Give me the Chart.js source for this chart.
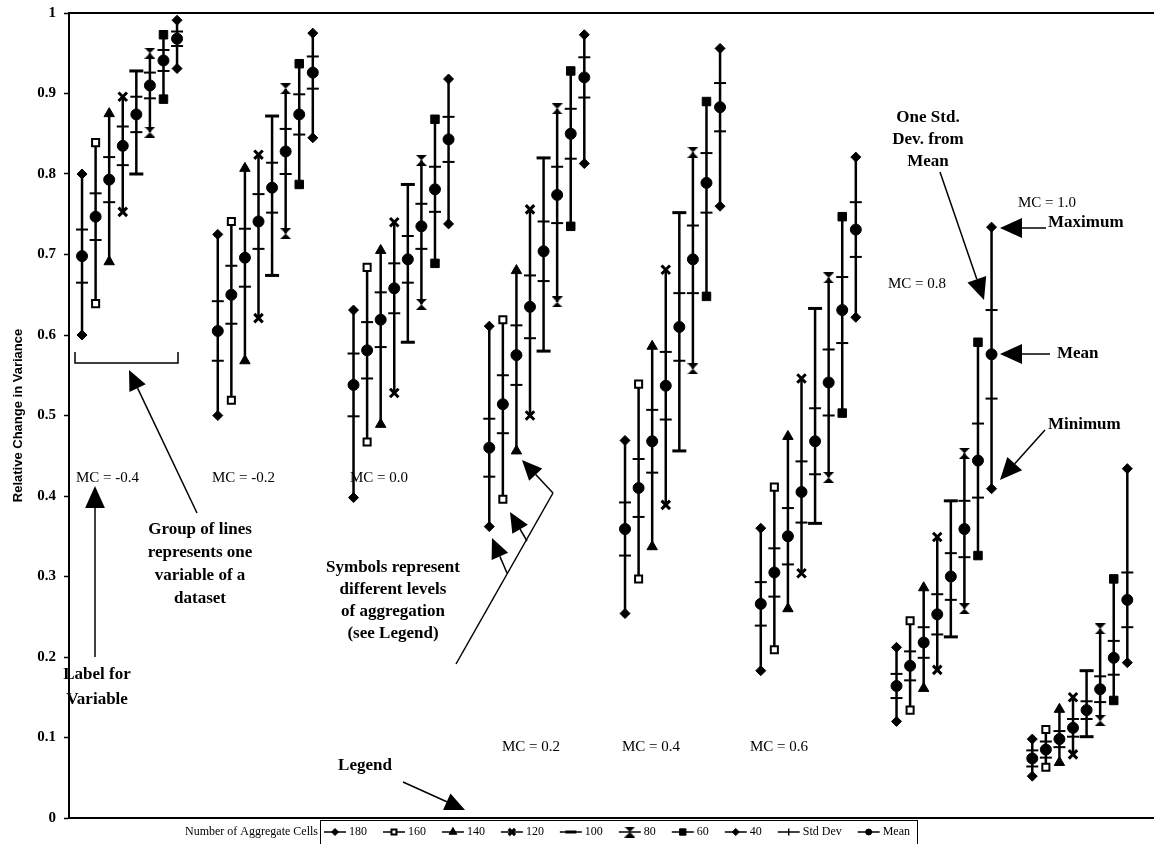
<!DOCTYPE html>
<html>
<head>
<meta charset="utf-8">
<script src="https://cdn.jsdelivr.net/npm/chart.js@4.4.0/dist/chart.umd.min.js"></script>
<style>
  html, body { margin: 0; padding: 0; background: #fff; }
  #wrap { width: 1154px; height: 844px; }
</style>
</head>
<body>
<div id="wrap"><canvas id="myChart" width="1154" height="844"></canvas></div>
<script>
// 資料：每組 (MC 值) 8 條線，對應 8 種聚合層級
const groupLabels = ['MC = -0.4', 'MC = -0.2', 'MC = 0.0', 'MC = 0.2', 'MC = 0.4', 'MC = 0.6', 'MC = 0.8', 'MC = 1.0'];
const aggLevels = ['180', '160', '140', '120', '100', '80', '60', '40'];
const yTicks = [0, 0.1, 0.2, 0.3, 0.4, 0.5, 0.6, 0.7, 0.8, 0.9, 1];

// 最大值 (每列一組)
const maxValues = [
  [0.800, 0.839, 0.875, 0.896, 0.928, 0.950, 0.973, 0.991],
  [0.725, 0.741, 0.807, 0.824, 0.872, 0.906, 0.937, 0.975],
  [0.631, 0.684, 0.705, 0.740, 0.787, 0.817, 0.868, 0.918],
  [0.611, 0.619, 0.680, 0.756, 0.820, 0.881, 0.928, 0.973],
  [0.469, 0.539, 0.586, 0.681, 0.752, 0.827, 0.890, 0.956],
  [0.360, 0.411, 0.474, 0.546, 0.633, 0.671, 0.747, 0.821],
  [0.212, 0.245, 0.286, 0.349, 0.394, 0.453, 0.591, 0.734],
  [0.098, 0.110, 0.135, 0.150, 0.183, 0.235, 0.297, 0.434]
];
// 最小值
const minValues = [
  [0.600, 0.639, 0.691, 0.753, 0.800, 0.852, 0.893, 0.931],
  [0.500, 0.519, 0.568, 0.621, 0.674, 0.726, 0.787, 0.845],
  [0.398, 0.467, 0.489, 0.528, 0.591, 0.638, 0.689, 0.738],
  [0.362, 0.396, 0.456, 0.500, 0.580, 0.641, 0.735, 0.813],
  [0.254, 0.297, 0.337, 0.389, 0.456, 0.558, 0.648, 0.760],
  [0.183, 0.209, 0.260, 0.304, 0.366, 0.423, 0.503, 0.622],
  [0.120, 0.134, 0.161, 0.184, 0.225, 0.260, 0.326, 0.409],
  [0.052, 0.063, 0.069, 0.079, 0.101, 0.121, 0.146, 0.193]
];
// 平均值
const meanValues = [
  [0.698, 0.747, 0.793, 0.835, 0.874, 0.910, 0.941, 0.968],
  [0.605, 0.650, 0.696, 0.741, 0.783, 0.828, 0.874, 0.926],
  [0.538, 0.581, 0.619, 0.658, 0.694, 0.735, 0.781, 0.843],
  [0.460, 0.514, 0.575, 0.635, 0.704, 0.774, 0.850, 0.920],
  [0.359, 0.410, 0.468, 0.537, 0.610, 0.694, 0.789, 0.883],
  [0.266, 0.305, 0.350, 0.405, 0.468, 0.541, 0.631, 0.731],
  [0.164, 0.189, 0.218, 0.253, 0.300, 0.359, 0.444, 0.576],
  [0.074, 0.085, 0.098, 0.112, 0.134, 0.160, 0.199, 0.271]
];
// 標準差
const stdDevValues = [
  [0.033, 0.029, 0.028, 0.024, 0.022, 0.016, 0.013, 0.009],
  [0.037, 0.036, 0.036, 0.034, 0.031, 0.028, 0.025, 0.020],
  [0.039, 0.035, 0.034, 0.031, 0.029, 0.028, 0.028, 0.028],
  [0.036, 0.036, 0.037, 0.039, 0.037, 0.035, 0.031, 0.025],
  [0.033, 0.036, 0.039, 0.042, 0.042, 0.042, 0.037, 0.030],
  [0.027, 0.030, 0.035, 0.038, 0.041, 0.041, 0.041, 0.034],
  [0.015, 0.018, 0.019, 0.025, 0.029, 0.035, 0.046, 0.055],
  [0.010, 0.010, 0.010, 0.011, 0.011, 0.016, 0.021, 0.034]
];

const SERIF = '"Liberation Serif", "Times New Roman", serif';

// 沙漏形符號 (80)
function makeHourglass(size) {
  const c = document.createElement('canvas');
  c.width = size; c.height = size;
  const g = c.getContext('2d');
  g.fillStyle = '#000';
  g.beginPath();
  g.moveTo(0, 0); g.lineTo(size, 0); g.lineTo(size / 2, size / 2);
  g.closePath(); g.fill();
  g.beginPath();
  g.moveTo(0, size); g.lineTo(size, size); g.lineTo(size / 2, size / 2);
  g.closePath(); g.fill();
  return c;
}
const hourglass = makeHourglass(11);

// 各層級的端點符號
const markers = [
  { style: 'rectRot', radius: 5, fill: '#000', bw: 1 },
  { style: 'rect', radius: 5, fill: '#fff', bw: 2 },
  { style: 'triangle', radius: 6, fill: '#000', bw: 1 },
  { style: 'crossRot', radius: 6, fill: '#000', bw: 3 },
  { style: 'line', radius: 7, fill: '#000', bw: 3 },
  { style: hourglass, radius: 6, fill: '#000', bw: 1 },
  { style: 'rect', radius: 6, fill: '#000', bw: 1 },
  { style: 'rectRot', radius: 5, fill: '#000', bw: 1 }
];

// 垂直線 (最小值 ~ 最大值)
const rangeDatasets = aggLevels.map((level, i) => {
  const pts = [];
  groupLabels.forEach((label, g) => {
    const x = g * 10 + i;
    pts.push({ x: x, y: maxValues[g][i] });
    pts.push({ x: x, y: minValues[g][i] });
    pts.push({ x: x, y: null });
  });
  const m = markers[i];
  return {
    label: level,
    data: pts,
    showLine: true,
    spanGaps: false,
    borderColor: '#000',
    borderWidth: 2.5,
    pointStyle: m.style,
    pointRadius: m.radius,
    pointBackgroundColor: m.fill,
    pointBorderColor: '#000',
    pointBorderWidth: m.bw,
    order: 2
  };
});

const meanPts = [];
const sdPts = [];
groupLabels.forEach((label, g) => {
  aggLevels.forEach((level, i) => {
    const x = g * 10 + i;
    meanPts.push({ x: x, y: meanValues[g][i] });
    sdPts.push({ x: x, y: meanValues[g][i] + stdDevValues[g][i] });
    sdPts.push({ x: x, y: meanValues[g][i] - stdDevValues[g][i] });
  });
});

const sdDataset = {
  label: 'Std Dev', data: sdPts, showLine: false,
  pointStyle: 'line', pointRadius: 6, pointBorderWidth: 2,
  pointBorderColor: '#000', pointBackgroundColor: '#000', order: 1
};
const meanDataset = {
  label: 'Mean', data: meanPts, showLine: false,
  pointStyle: 'circle', pointRadius: 5.5, pointBorderWidth: 1,
  pointBorderColor: '#000', pointBackgroundColor: '#000', order: 0
};

// 畫箭頭
function arrow(ctx, x1, y1, x2, y2, head) {
  const a = Math.atan2(y2 - y1, x2 - x1);
  const h = head || 20;
  const w = h * 0.45;
  const bx = x2 - h * Math.cos(a), by = y2 - h * Math.sin(a);
  ctx.beginPath();
  ctx.moveTo(x1, y1); ctx.lineTo(bx, by); ctx.stroke();
  ctx.beginPath();
  ctx.moveTo(x2, y2);
  ctx.lineTo(bx + w * Math.sin(a), by - w * Math.cos(a));
  ctx.lineTo(bx - w * Math.sin(a), by + w * Math.cos(a));
  ctx.closePath(); ctx.fill();
}

function textLines(ctx, lines, cx, y0, step) {
  lines.forEach((t, k) => ctx.fillText(t, cx, y0 + k * step));
}

// 說明文字、箭頭與圖例
const notesPlugin = {
  id: 'notes',
  afterDraw(chart) {
    const ctx = chart.ctx;
    const area = chart.chartArea;
    ctx.save();
    ctx.strokeStyle = '#000';
    ctx.fillStyle = '#000';

    // 上框線，下軸延伸到右邊
    ctx.lineWidth = 2;
    ctx.beginPath();
    ctx.moveTo(area.left, area.top); ctx.lineTo(chart.width, area.top);
    ctx.moveTo(area.left, area.bottom); ctx.lineTo(chart.width, area.bottom);
    ctx.stroke();

    // MC 標籤
    const mcPos = [[76, 478], [212, 478], [350, 478], [502, 747], [622, 747], [750, 747], [888, 284], [1018, 203]];
    ctx.font = '15px ' + SERIF;
    ctx.textAlign = 'left';
    ctx.textBaseline = 'middle';
    groupLabels.forEach((t, g) => ctx.fillText(t, mcPos[g][0], mcPos[g][1]));

    // 粗體說明
    ctx.font = 'bold 17px ' + SERIF;
    ctx.textAlign = 'center';
    textLines(ctx, ['Group of lines', 'represents one', 'variable of a', 'dataset'], 200, 530, 23);
    textLines(ctx, ['Label for', 'Variable'], 97, 675, 25);
    textLines(ctx, ['Symbols represent', 'different levels', 'of aggregation', '(see Legend)'], 393, 568, 22);
    textLines(ctx, ['Legend'], 365, 766, 22);
    textLines(ctx, ['One Std.', 'Dev. from', 'Mean'], 928, 118, 22);
    ctx.textAlign = 'left';
    ctx.fillText('Maximum', 1048, 223);
    ctx.fillText('Mean', 1057, 354);
    ctx.fillText('Minimum', 1048, 425);

    // 括號
    ctx.lineWidth = 1.5;
    ctx.beginPath();
    ctx.moveTo(75, 352); ctx.lineTo(75, 363); ctx.lineTo(178, 363); ctx.lineTo(178, 352);
    ctx.stroke();

    // 箭頭
    arrow(ctx, 95, 657, 95, 486, 22);
    arrow(ctx, 197, 513, 129, 370, 20);
    arrow(ctx, 403, 782, 465, 810, 20);
    arrow(ctx, 940, 172, 984, 300, 22);
    arrow(ctx, 1046, 228, 1000, 228, 22);
    arrow(ctx, 1050, 354, 1000, 354, 22);
    arrow(ctx, 1045, 430, 1000, 480, 22);
    ctx.beginPath();
    ctx.moveTo(456, 664); ctx.lineTo(553, 493); ctx.stroke();
    arrow(ctx, 553, 493, 522, 460, 20);
    arrow(ctx, 527, 541, 510, 512, 20);
    arrow(ctx, 507, 573, 492, 538, 20);

    // 圖例
    const ly = 832;
    ctx.font = '12px ' + SERIF;
    ctx.textAlign = 'right';
    ctx.fillText('Number of Aggregate Cells', 318, ly);
    ctx.lineWidth = 1;
    ctx.strokeRect(320.5, 820.5, 597, 30);
    const items = aggLevels.map((t, i) => ({ text: t, m: markers[i] }));
    items.push({ text: 'Std Dev', m: { style: 'line', radius: 5, fill: '#000', bw: 1.5, rot: 90 } });
    items.push({ text: 'Mean', m: { style: 'circle', radius: 4, fill: '#000', bw: 1 } });
    const lineLen = 22, gapText = 3;
    let total = 0;
    items.forEach(it => { total += lineLen + gapText + ctx.measureText(it.text).width; });
    const spare = (910 - 324 - total) / (items.length - 1);
    let cx = 324;
    ctx.textAlign = 'left';
    items.forEach(it => {
      ctx.lineWidth = 1.5;
      ctx.beginPath(); ctx.moveTo(cx, ly); ctx.lineTo(cx + lineLen, ly); ctx.stroke();
      ctx.fillStyle = it.m.fill;
      ctx.lineWidth = it.m.bw;
      const r = Math.max(3, it.m.radius - 1.5);
      Chart.helpers.drawPoint(ctx, { pointStyle: it.m.style, radius: r, rotation: it.m.rot || 0, borderWidth: it.m.bw }, cx + lineLen / 2, ly);
      ctx.fillStyle = '#000';
      ctx.fillText(it.text, cx + lineLen + gapText, ly);
      cx += lineLen + gapText + ctx.measureText(it.text).width + spare;
    });
    ctx.restore();
  }
};

const ctx = document.getElementById('myChart').getContext('2d');
const myChart = new Chart(ctx, {
  type: 'scatter',
  data: { datasets: [meanDataset, sdDataset].concat(rangeDatasets) },
  options: {
    responsive: false,
    animation: false,
    layout: { padding: { top: 13, right: 0, bottom: 18, left: 0 } },
    plugins: { legend: { display: false }, tooltip: { enabled: false } },
    scales: {
      x: {
        type: 'linear', min: -0.96, max: 78.23,
        ticks: { display: false },
        grid: { display: false },
        border: { display: true, color: '#000', width: 2 }
      },
      y: {
        min: 0, max: 1,
        afterFit(scale) {
          scale.width = 69;
          scale.paddingTop = 0;
          scale.paddingBottom = 0;
        },
        afterBuildTicks(scale) { scale.ticks = yTicks.map(v => ({ value: v })); },
        ticks: {
          color: '#000',
          padding: 8,
          font: { family: SERIF, size: 15, weight: 'bold' },
          callback: v => (v === 0 || v === 1) ? String(v) : v.toFixed(1)
        },
        grid: { drawOnChartArea: false, color: '#000', tickLength: 5, tickWidth: 1.5 },
        border: { display: true, color: '#000', width: 2 },
        title: {
          display: true, text: 'Relative Change in Variance', color: '#000',
          font: { family: '"Liberation Sans", Arial, sans-serif', size: 13, weight: 'bold' },
          padding: { top: 11, bottom: 0 }
        }
      }
    }
  },
  plugins: [notesPlugin]
});
</script>
</body>
</html>
